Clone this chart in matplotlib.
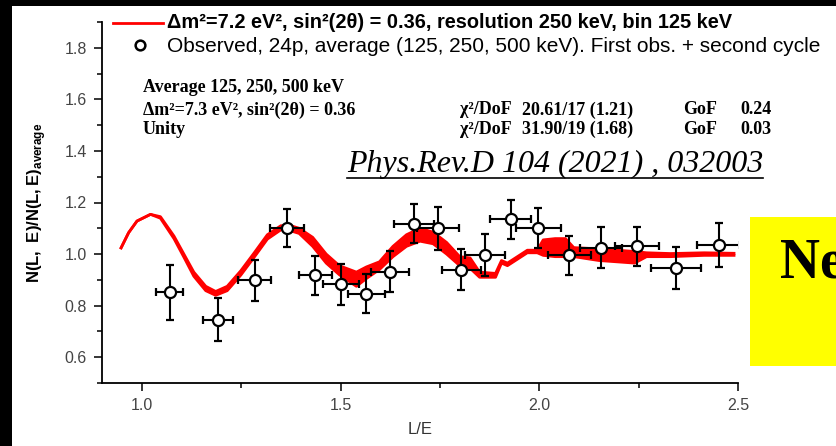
import numpy as np
import matplotlib
matplotlib.use("Agg")
import matplotlib.pyplot as plt
from matplotlib.lines import Line2D
from matplotlib.patches import Rectangle
from matplotlib.ticker import MultipleLocator

# ---- observed ratio points (L/E, ratio, errors) ----
obs_x = [1.070, 1.192, 1.284, 1.365, 1.437, 1.502, 1.565, 1.625, 1.684, 1.745,
         1.804, 1.863, 1.928, 1.998, 2.076, 2.156, 2.246, 2.344, 2.451]
obs_y = [0.852, 0.746, 0.898, 1.102, 0.917, 0.882, 0.846, 0.931, 1.118, 1.100,
         0.940, 0.996, 1.135, 1.100, 0.996, 1.025, 1.030, 0.945, 1.035]
obs_yerr = [0.107, 0.084, 0.080, 0.074, 0.076, 0.080, 0.075, 0.080, 0.076, 0.084,
            0.078, 0.082, 0.075, 0.078, 0.076, 0.079, 0.076, 0.081, 0.084]
obs_xerr = [0.035, 0.037, 0.041, 0.042, 0.041, 0.045, 0.046, 0.048, 0.050, 0.052,
            0.049, 0.050, 0.052, 0.056, 0.055, 0.053, 0.056, 0.063, 0.053]

# ---- oscillation expectation (smeared), lower / upper envelope ----
curve_x = [0.948, 0.967, 0.988, 1.022, 1.047, 1.081, 1.106, 1.131, 1.161, 1.186,
           1.215, 1.249, 1.283, 1.316, 1.350, 1.375, 1.396, 1.430, 1.464, 1.497,
           1.540, 1.565, 1.598, 1.632, 1.666, 1.700, 1.733, 1.767, 1.800, 1.826,
           1.850, 1.890, 1.905, 1.920, 1.940, 1.970, 1.995, 2.010, 2.040, 2.066,
           2.087, 2.150, 2.240, 2.270, 2.330, 2.415, 2.490]
curve_lo = [1.024, 1.083, 1.128, 1.154, 1.139, 1.060, 0.988, 0.914, 0.858, 0.840,
            0.858, 0.918, 0.988, 1.058, 1.094, 1.090, 1.080, 1.030, 0.965, 0.920,
            0.875, 0.905, 0.940, 0.990, 1.030, 1.050, 1.040, 1.000, 0.955, 0.945,
            0.910, 0.910, 0.965, 0.955, 0.975, 1.005, 1.005, 0.995, 0.990, 0.990,
            0.990, 0.975, 0.965, 0.990, 0.990, 0.995, 0.995]
curve_hi = [1.024, 1.083, 1.128, 1.154, 1.145, 1.070, 1.000, 0.930, 0.875, 0.855,
            0.875, 0.935, 1.005, 1.075, 1.110, 1.110, 1.100, 1.065, 1.000, 0.955,
            0.930, 0.950, 0.970, 1.030, 1.075, 1.100, 1.085, 1.045, 0.990, 0.985,
            0.930, 0.925, 0.975, 0.965, 0.985, 1.015, 1.015, 1.055, 1.060, 1.060,
            1.025, 1.020, 1.010, 1.005, 1.002, 1.005, 1.003]

fit_label = "\u0394m\u00b2=7.2 eV\u00b2, sin\u00b2(2\u03b8) = 0.36, resolution 250 keV, bin 125 keV"
obs_label = "Observed, 24p, average (125, 250, 500 keV). First obs. + second cycle"
fit_rows = ["\u0394m\u00b2=7.3 eV\u00b2, sin\u00b2(2\u03b8) = 0.36", "Unity"]
chi2_vals = ["20.61/17 (1.21)", "31.90/19 (1.68)"]
gof_vals = ["0.24", "0.03"]
reference = "Phys.Rev.D 104 (2021) , 032003"

plt.rcParams["font.family"] = ["Liberation Sans", "DejaVu Sans"]
plt.rcParams["mathtext.fontset"] = "custom"
plt.rcParams["mathtext.rm"] = "Liberation Sans"
plt.rcParams["mathtext.bf"] = "Liberation Sans:bold"

W, H = 836, 446
fig = plt.figure(figsize=(W / 100, H / 100), dpi=100)


def px(x, y):
    # pixel position (from top-left) -> figure fraction
    return x / W, 1 - y / H


ax = fig.add_axes([102 / W, 1 - 383 / H, (738 - 102) / W, (383 - 22) / H])

ax.fill_between(curve_x, curve_lo, curve_hi, color="red", lw=0)
ax.plot(curve_x, curve_lo, color="red", lw=2)
ax.plot(curve_x, curve_hi, color="red", lw=2)

ax.errorbar(obs_x, obs_y, xerr=obs_xerr, yerr=obs_yerr, fmt="o", ms=8,
            mfc="white", mec="black", mew=1.6, ecolor="black", elinewidth=1.5,
            capsize=3, capthick=1.5, zorder=5)

ax.set_xlim(0.9, 2.5)
ax.set_ylim(0.5, 1.9)
ax.xaxis.set_minor_locator(MultipleLocator(0.25))
ax.yaxis.set_minor_locator(MultipleLocator(0.1))
ax.set_xticks([1.0, 1.5, 2.0, 2.5])
ax.set_yticks([0.6, 0.8, 1.0, 1.2, 1.4, 1.6, 1.8])
for s in ("top", "right"):
    ax.spines[s].set_visible(False)
for s in ("left", "bottom"):
    ax.spines[s].set_linewidth(1.3)
ax.tick_params(which="major", direction="out", length=6, width=1.1, pad=5,
               labelsize=11.5, labelcolor="#444444")
ax.tick_params(which="minor", direction="out", length=3.5, width=1.1)
ax.set_xlabel("L/E", fontsize=12, color="#333333", labelpad=6)
ax.set_ylabel(r"$\mathbf{N(L,\ E)/N(L,E)}_{\mathbf{average}}$", fontsize=12,
              labelpad=12)

# legend drawn by hand at the top
fig.add_artist(Line2D([113 / W, 163 / W], [1 - 23 / H] * 2, color="red", lw=2))
fig.text(*px(167, 23), fit_label, fontsize=14.4, fontweight="bold", va="center")
fig.add_artist(Line2D([140 / W], [1 - 45 / H], marker="o", ms=7, mfc="white",
                      mec="black", mew=1.8))
fig.text(*px(167, 46), obs_label, fontsize=15, va="center")

# fit summary block
serif = ["Liberation Serif", "DejaVu Serif"]
fs = 13
fig.text(*px(143, 88), "Average 125, 250, 500 keV", family=serif,
         fontsize=fs, fontweight="bold", va="center")
for i, row in enumerate(fit_rows):
    y = 110 + 19 * i
    fig.text(*px(143, y), row, family=serif, fontsize=fs, fontweight="bold", va="center")
    fig.text(*px(460, y), "\u03c7\u00b2/DoF", family=serif, fontsize=fs,
             fontweight="bold", va="center")
    fig.text(*px(522, y), chi2_vals[i], family=serif, fontsize=fs,
             fontweight="bold", va="center")
    fig.text(*px(683, y), "GoF", family=serif, fontsize=fs, fontweight="bold", va="center")
    fig.text(*px(740, y), gof_vals[i], family=serif, fontsize=fs,
             fontweight="bold", va="center")

ref = fig.text(*px(347, 172), reference, family=serif, fontsize=23,
               style="italic", va="baseline")

# yellow box on the right
fig.add_artist(Rectangle(px(750, 366), (W - 750) / W, (366 - 217) / H,
                         transform=fig.transFigure, color="#ffff00", lw=0))
fig.text(*px(780, 278), "Ne", family=serif, fontsize=40, fontweight="bold",
         va="baseline")

# dark frame strips
fig.add_artist(Rectangle((0, 0), 12 / W, 1, transform=fig.transFigure,
                         color="black", lw=0))
fig.add_artist(Rectangle((0, 1 - 6 / H), 1, 6 / H, transform=fig.transFigure,
                         color="black", lw=0))

# underline the reference
fig.canvas.draw()
bb = ref.get_window_extent().transformed(fig.transFigure.inverted())
fig.add_artist(Line2D([bb.x0, bb.x1], [bb.y0 + 1.5 / H] * 2, color="black", lw=1.2))

fig.savefig("out.png", dpi=100)
